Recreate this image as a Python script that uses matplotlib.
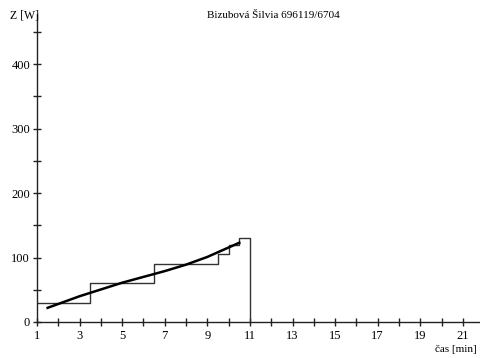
import matplotlib
matplotlib.use("Agg")
import matplotlib.pyplot as plt
import numpy as np

# Step load protocol (time in min, load in W)
step_edges = [1.0, 3.5, 6.5, 9.5, 10.0, 10.5, 11.0]
step_loads = [30, 60, 90, 105, 120, 130]

# Regression-like line
line_t = [1.5, 3.0, 5.0, 7.0, 8.0, 9.0, 10.5]
line_z = [22, 40, 61, 79, 89, 101, 123]

title = "Bizubová Šilvia 696119/6704"
xticks_major = list(range(1, 22, 2))
yticks_major = [0, 100, 200, 300, 400]

plt.rcParams['font.family'] = ['Liberation Serif', 'DejaVu Serif']

fig = plt.figure(figsize=(4.81, 3.58), dpi=100)
ax = fig.add_axes([37/481, 36/358, 1 - 37/481, (322-14)/358])

xs = [step_edges[0]]
ys = [step_loads[0]]
for i, z in enumerate(step_loads):
    xs += [step_edges[i], step_edges[i+1]]
    ys += [z, z]
xs.append(step_edges[-1]); ys.append(0)
ax.plot(xs, ys, color='#333333', lw=1.0)
ax.plot(line_t, line_z, color='black', lw=1.8)

ax.set_xlim(1, 21.85)
ax.set_ylim(0, 478)
ax.spines['top'].set_visible(False)
ax.spines['right'].set_visible(False)
for s in ['left', 'bottom']:
    ax.spines[s].set_color('#222222')
    ax.spines[s].set_linewidth(1.0)

ax.set_xticks(xticks_major)
ax.set_xticks(range(1, 22), minor=True)
ax.set_yticks(yticks_major)
ax.set_yticks(range(0, 451, 50), minor=True)
ax.tick_params(which='both', direction='inout', length=6, width=1, color='#222222',
               labelsize=9, pad=3)
ax.tick_params(axis='y', which='major', pad=2)

fig.text(273/481, 1 - 15/358, title, ha='center', va='center', fontsize=8)
fig.text(10/481, 1 - 15/358, "Z [W]", ha='left', va='center', fontsize=8.5)
fig.text(477/481, 1 - 350/358, "čas [min]", ha='right', va='center', fontsize=8)

fig.savefig("out.png", dpi=100)
